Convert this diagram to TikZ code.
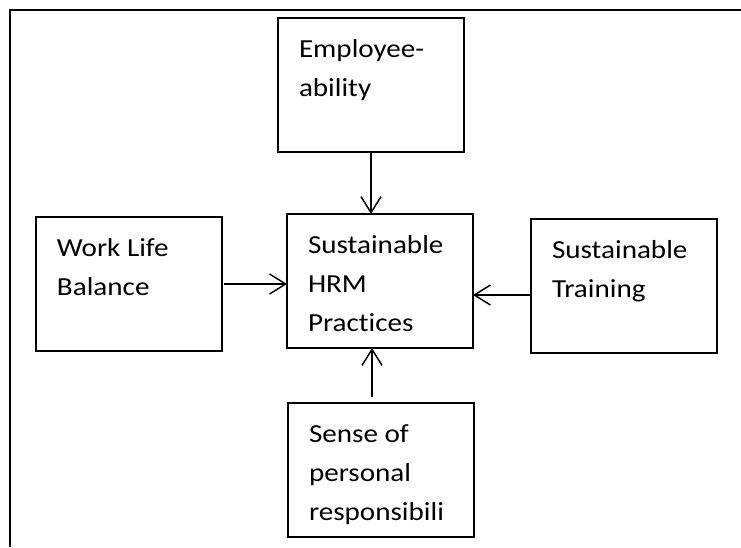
\documentclass[tikz,border=0pt]{standalone}
\usepackage{fontspec}
\setmainfont[FakeStretch=1.12,Ligatures=NoCommon]{Carlito}
\usetikzlibrary{arrows.meta}
\newdimen\pxu \pxu=0.75pt
\newcommand{\bxtext}[1]{\parbox[t][134\pxu][t]{186\pxu}{\fontsize{19.5pt}{39\pxu}\selectfont\leftskip=21\pxu\baselineskip=39\pxu\lineskiplimit=-100pt\rule{0pt}{39\pxu}#1\par}}
\tikzset{
  conceptbox/.style={draw, line width=1.1pt, anchor=north west, inner sep=0pt, outer sep=0pt},
  arr/.style={line width=1.1pt, -{Straight Barb[length=12pt,width=15pt,line width=1.1pt]}},
  frameline/.style={line width=1.6pt}
}
\begin{document}
\begin{tikzpicture}[x=0.75pt,y=-0.75pt]
\useasboundingbox (0,0) rectangle (741,547);
\fill[white] (0,0) rectangle (741,547);
\coordinate (fa) at (10,547);
\coordinate (fb) at (10,10);
\coordinate (fc) at (741,10);
\draw[frameline] (fa) -- (fb) -- (fc);
\node[conceptbox] (emp) at (278,18) {\bxtext{Employee-\\ability}};
\node[conceptbox] (hrm) at (287,214) {\bxtext{Sustainable\\HRM\\Practices}};
\node[conceptbox] (wlb) at (36,217) {\bxtext{Work Life\\Balance}};
\node[conceptbox] (st) at (531,219) {\bxtext{Sustainable\\Training}};
\node[conceptbox] (spr) at (288,403) {\bxtext{Sense of\\personal\\responsibili}};
\draw[arr] (emp.south) -- (emp.south |- hrm.north);
\draw[arr] ([xshift=1.5]wlb.east) -- (wlb.east -| hrm.west);
\draw[arr] (st.west |- 0,295) -- (hrm.east |- 0,295);
\draw[arr] (372,397) -- (372,0 |- hrm.south);
\end{tikzpicture}
\end{document}
